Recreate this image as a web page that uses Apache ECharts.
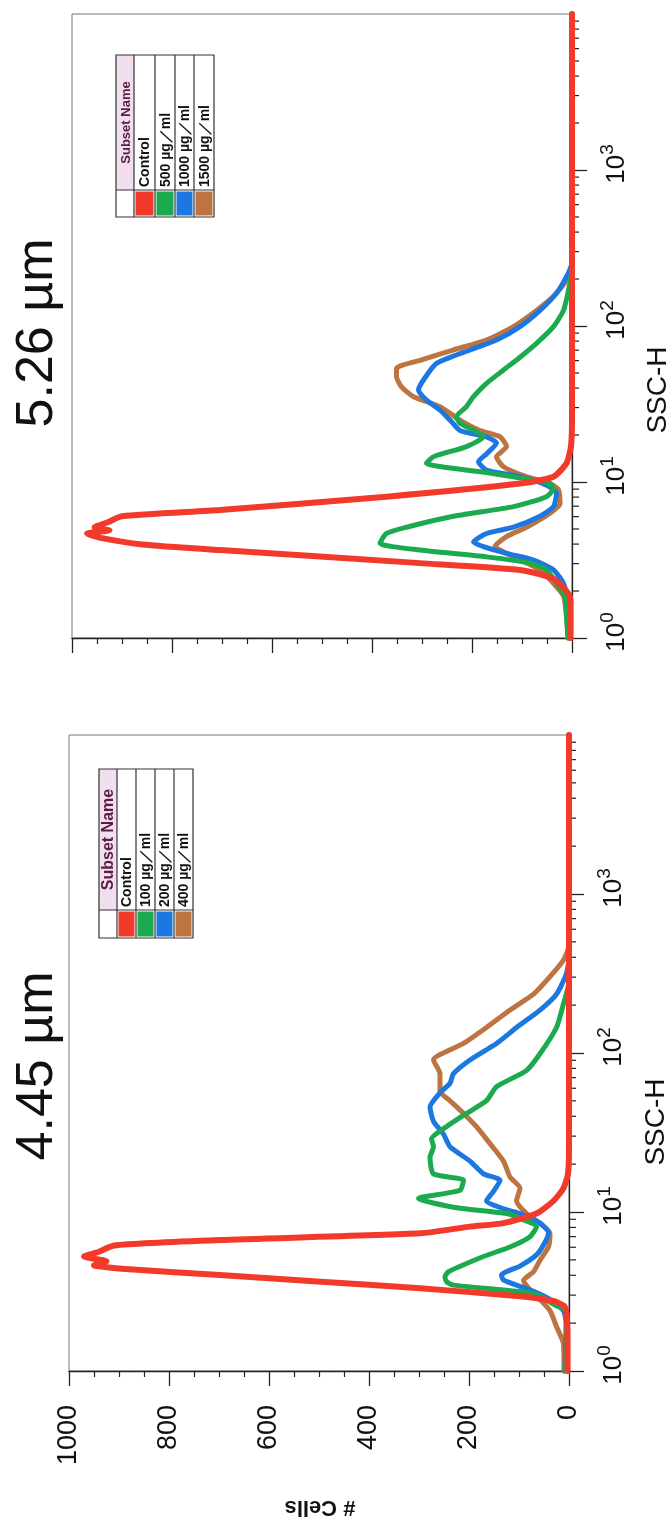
<!DOCTYPE html>
<html><head><meta charset="utf-8">
<script src="https://cdn.jsdelivr.net/npm/echarts@6/dist/echarts.min.js"></script>
<style>html,body{margin:0;padding:0;background:#fff}#c{width:672px;height:1526px}</style>
</head><body><div id="c"></div><script>
// ---------- DATA (SSC-H in log10 units, # cells) ----------
const panelTitles = ['5.26 µm', '4.45 µm'];
const topLabels = ['Control', '500 µg／ml', '1000 µg／ml', '1500 µg／ml'];
const botLabels = ['Control', '100 µg／ml', '200 µg／ml', '400 µg／ml'];
const cellTicks = [0, 200, 400, 600, 800, 1000];
const sscDecades = [0, 1, 2, 3];

// Top panel (5.26 µm)
const top_ctrl_ssc = [0, 0.2, 0.265, 0.38, 0.436, 0.48, 0.564, 0.60, 0.64, 0.67, 0.69, 0.71, 0.74, 0.78, 0.82, 0.906, 0.99, 1.034, 1.12, 1.23, 1.4, 2, 3, 4];
const top_ctrl_cells = [3, 3, 4, 37, 104, 304, 704, 860, 940, 970, 925, 955, 930, 900, 704, 371, 104, 37, 11, 2, 0, 0, 0, 0];
const top_500_ssc = [0, 0.14, 0.265, 0.35, 0.436, 0.48, 0.52, 0.564, 0.607, 0.67, 0.71, 0.78, 0.842, 0.906, 0.96, 0.99, 1.01, 1.06, 1.12, 1.162, 1.227, 1.29, 1.377, 1.419, 1.483, 1.547, 1.632, 1.718, 1.80, 1.889, 1.996, 2.10, 2.23, 2.36, 3, 4];
const top_500_cells = [8, 11, 14, 31, 51, 84, 171, 304, 384, 371, 331, 237, 117, 51, 37, 44, 71, 171, 291, 277, 211, 177, 224, 231, 211, 197, 171, 137, 104, 71, 37, 17, 7, 0, 0, 0];
const top_1000_ssc = [0, 0.22, 0.35, 0.436, 0.5, 0.543, 0.586, 0.615, 0.67, 0.71, 0.78, 0.842, 0.928, 0.98, 1.034, 1.077, 1.13, 1.18, 1.25, 1.29, 1.33, 1.397, 1.461, 1.525, 1.59, 1.654, 1.76, 1.846, 1.91, 1.996, 2.10, 2.21, 2.316, 2.4, 3, 4];
const top_1000_cells = [5, 7, 17, 37, 77, 131, 177, 197, 171, 117, 64, 37, 31, 51, 104, 171, 187, 171, 151, 171, 224, 244, 264, 291, 307, 297, 271, 204, 151, 104, 64, 31, 11, 0, 0, 0];
const top_1500_ssc = [0, 0.14, 0.27, 0.35, 0.436, 0.5, 0.564, 0.586, 0.65, 0.71, 0.8, 0.86, 0.95, 0.99, 1.034, 1.098, 1.162, 1.227, 1.29, 1.33, 1.397, 1.483, 1.547, 1.61, 1.675, 1.728, 1.78, 1.846, 1.91, 1.996, 2.10, 2.19, 2.295, 2.42, 3, 4];
const top_1500_cells = [8, 11, 17, 37, 64, 104, 144, 154, 131, 91, 44, 24, 27, 44, 91, 137, 151, 131, 144, 184, 224, 264, 317, 341, 351, 351, 304, 238, 171, 117, 71, 37, 11, 0, 0, 0];

// Bottom panel (4.45 µm)
const bot_ctrl_ssc = [0, 0.2, 0.32, 0.38, 0.41, 0.44, 0.47, 0.52, 0.56, 0.604, 0.64, 0.665, 0.69, 0.72, 0.75, 0.79, 0.824, 0.866, 0.908, 0.93, 0.99, 1.07, 1.15, 1.24, 1.4, 2, 3, 4];
const bot_ctrl_cells = [3, 3, 4, 6, 10, 31, 98, 298, 488, 698, 880, 950, 925, 970, 940, 910, 698, 298, 198, 131, 65, 31, 11, 2, 0, 0, 0, 0];
const bot_100_ssc = [0, 0.3, 0.38, 0.41, 0.47, 0.49, 0.51, 0.54, 0.562, 0.593, 0.624, 0.72, 0.78, 0.845, 0.908, 0.96, 0.99, 1.03, 1.085, 1.137, 1.2, 1.24, 1.345, 1.41, 1.46, 1.537, 1.62, 1.70, 1.788, 1.89, 1.995, 2.16, 2.31, 2.45, 3, 4];
const bot_100_cells = [8, 4, 5, 25, 58, 78, 131, 231, 245, 248, 241, 171, 118, 78, 65, 98, 125, 231, 301, 218, 211, 271, 278, 271, 275, 245, 205, 165, 145, 85, 58, 25, 11, 0, 0, 0];
const bot_200_ssc = [0, 0.3, 0.38, 0.45, 0.51, 0.572, 0.604, 0.66, 0.73, 0.81, 0.87, 0.93, 0.99, 1.02, 1.07, 1.13, 1.2, 1.24, 1.32, 1.41, 1.49, 1.57, 1.66, 1.75, 1.81, 1.87, 1.956, 2.06, 2.16, 2.27, 2.37, 2.5, 2.6, 3, 4];
const bot_200_cells = [8, 6, 11, 38, 78, 131, 135, 98, 65, 48, 41, 58, 98, 131, 165, 151, 138, 171, 198, 238, 251, 271, 278, 258, 238, 231, 198, 145, 105, 58, 25, 5, 0, 0, 0];
const bot_400_ssc = [0, 0.17, 0.28, 0.38, 0.45, 0.51, 0.57, 0.624, 0.697, 0.78, 0.866, 0.93, 0.99, 1.07, 1.15, 1.22, 1.32, 1.43, 1.537, 1.62, 1.70, 1.76, 1.87, 1.956, 2.06, 2.16, 2.27, 2.37, 2.48, 2.585, 2.68, 3, 4];
const bot_400_cells = [10, 11, 25, 38, 58, 78, 91, 71, 58, 41, 38, 58, 85, 105, 98, 118, 131, 158, 185, 211, 238, 258, 258, 271, 211, 165, 118, 71, 38, 11, 0, 0, 0];

// ---------- STYLE ----------
const COLORS = ['#f23a2b', '#1bab4e', '#1c78e0', '#bd7440'];
const FONT = '"Liberation Sans", Arial, sans-serif';
const NARROW = '"Liberation Sans Narrow", "Arial Narrow", "Liberation Sans", sans-serif';

const grids = [
  { left: 72, top: 14, width: 500, height: 624 },
  { left: 69, top: 735, width: 500, height: 636 }
];

const minorLog = [];
sscDecades.forEach(d => { for (let k = 2; k <= 9; k++) minorLog.push([d + Math.log10(k)]); });

function pairs(ssc, cells) { return cells.map((c, i) => [c, ssc[i]]); }

const panelSeries = [
  [[top_ctrl_ssc, top_ctrl_cells], [top_500_ssc, top_500_cells], [top_1000_ssc, top_1000_cells], [top_1500_ssc, top_1500_cells]],
  [[bot_ctrl_ssc, bot_ctrl_cells], [bot_100_ssc, bot_100_cells], [bot_200_ssc, bot_200_cells], [bot_400_ssc, bot_400_cells]]
];

const series = [];
panelSeries.forEach((list, g) => {
  // draw order: brown, blue, green, red on top
  [3, 2, 1, 0].forEach(i => {
    series.push({
      type: 'line', xAxisIndex: g, yAxisIndex: g, data: pairs(list[i][0], list[i][1]),
      symbol: 'none', smooth: 0.2, clip: false, z: 3 + (3 - i),
      lineStyle: { color: COLORS[i], width: i === 0 ? 6 : 5, cap: 'round', join: 'round' }
    });
  });
  series.push({
    type: 'custom', xAxisIndex: g, yAxisIndex: g, data: minorLog, clip: false, silent: true, z: 2,
    renderItem: (params, api) => {
      const p = api.coord([0, api.value(0)]);
      return { type: 'line', shape: { x1: p[0] + 1, y1: p[1], x2: p[0] + 7, y2: p[1] }, style: { stroke: '#222', lineWidth: 1.2 } };
    }
  });
});

const xAxis = [0, 1].map(i => ({
  type: 'value', gridIndex: i, min: 0, max: 1000, interval: 200, inverse: true, position: 'bottom',
  axisLine: { show: true, onZero: false, lineStyle: { color: '#222', width: 1.3 } },
  axisTick: { show: true, length: 15, lineStyle: { color: '#222', width: 1.3 } },
  minorTick: { show: true, splitNumber: 4, length: 6, lineStyle: { color: '#222', width: 1.2 } },
  splitLine: { show: false }, minorSplitLine: { show: false },
  axisLabel: {
    show: i === 1, rotate: 90, margin: 34, fontSize: 27, color: '#111', fontFamily: FONT,
    formatter: v => cellTicks.indexOf(v) >= 0 ? String(v) : ''
  }
}));

const yAxis = [0, 1].map(i => ({
  type: 'value', gridIndex: i, min: 0, max: 4, interval: 1, position: 'right',
  axisLine: { show: true, onZero: false, lineStyle: { color: '#222', width: 1.3 } },
  axisTick: { show: true, length: 15, lineStyle: { color: '#222', width: 1.3 } },
  splitLine: { show: false },
  axisLabel: {
    show: true, rotate: 90, margin: 26, showMaxLabel: false, padding: [0, 0, 0, 12],
    formatter: v => sscDecades.indexOf(v) >= 0 ? '{b|10}{s|' + v + '}' : '',
    rich: {
      b: { fontSize: 26, lineHeight: 32, verticalAlign: 'bottom', fontFamily: FONT, color: '#111' },
      s: { fontSize: 19, lineHeight: 14, verticalAlign: 'top', fontFamily: FONT, color: '#111' }
    }
  }
}));

function legend(cols, top, swTop, bottom, labels, headerSize) {
  const els = [];
  els.push({ type: 'rect', shape: { x: cols[0], y: top, width: cols[1] - cols[0], height: swTop - top }, style: { fill: '#f1dff0' } });
  for (let i = 0; i < 4; i++) {
    els.push({ type: 'rect', shape: { x: cols[i + 1] + 1.5, y: swTop + 1.5, width: cols[i + 2] - cols[i + 1] - 3, height: bottom - swTop - 3 }, style: { fill: COLORS[i] } });
  }
  els.push({ type: 'rect', shape: { x: cols[0], y: top, width: cols[5] - cols[0], height: bottom - top }, style: { fill: 'none', stroke: '#333', lineWidth: 1.2 } });
  for (let i = 1; i < 5; i++) {
    els.push({ type: 'line', shape: { x1: cols[i], y1: top, x2: cols[i], y2: bottom }, style: { stroke: '#333', lineWidth: 1.2 } });
  }
  els.push({ type: 'line', shape: { x1: cols[0], y1: swTop, x2: cols[5], y2: swTop }, style: { stroke: '#333', lineWidth: 1.2 } });
  els.push({ type: 'text', x: (cols[0] + cols[1]) / 2 + 1, y: (top + swTop) / 2, rotation: Math.PI / 2,
    style: { text: 'Subset Name', font: 'bold ' + headerSize + 'px ' + NARROW, fill: '#5a1f3f', textAlign: 'center', textVerticalAlign: 'middle' } });
  labels.forEach((t, i) => {
    els.push({ type: 'text', x: (cols[i + 1] + cols[i + 2]) / 2 + 1, y: swTop - 3, rotation: Math.PI / 2,
      style: { text: t, font: 'bold 14px ' + NARROW, fill: '#111', textAlign: 'left', textVerticalAlign: 'middle' } });
  });
  return els;
}

const graphic = [].concat(
  legend([116, 134, 155, 175, 194, 214], 55, 190, 217, topLabels, 13),
  legend([99, 117, 136, 155, 174, 193], 769, 910, 938, botLabels, 16),
  [
    { type: 'text', x: 38, y: 333, rotation: Math.PI / 2, style: { text: panelTitles[0], font: '52px ' + FONT, fill: '#111', textAlign: 'center', textVerticalAlign: 'middle' } },
    { type: 'text', x: 38, y: 1066, rotation: Math.PI / 2, style: { text: panelTitles[1], font: '52px ' + FONT, fill: '#111', textAlign: 'center', textVerticalAlign: 'middle' } },
    { type: 'text', x: 658, y: 390, rotation: Math.PI / 2, style: { text: 'SSC-H', font: '28px ' + FONT, fill: '#111', textAlign: 'center', textVerticalAlign: 'middle' } },
    { type: 'text', x: 656, y: 1122, rotation: Math.PI / 2, style: { text: 'SSC-H', font: '28px ' + FONT, fill: '#111', textAlign: 'center', textVerticalAlign: 'middle' } },
    { type: 'text', x: 320, y: 1507, rotation: Math.PI, style: { text: '# Cells', font: 'bold 22px ' + FONT, fill: '#111', textAlign: 'center', textVerticalAlign: 'middle' } }
  ]
);

const chart = echarts.init(document.getElementById('c'), null, { renderer: 'canvas' });
chart.setOption({
  animation: false,
  backgroundColor: '#fff',
  grid: grids.map(g => Object.assign({ show: true, borderColor: '#777', borderWidth: 1, backgroundColor: 'transparent', containLabel: false }, g)),
  xAxis, yAxis, series, graphic
});
</script></body></html>
